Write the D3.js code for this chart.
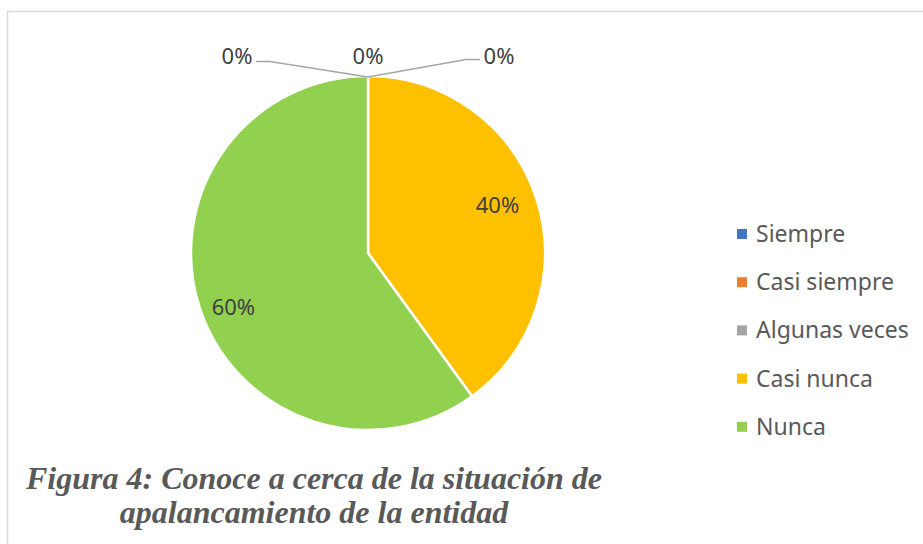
<!DOCTYPE html>
<html>
<head>
<meta charset="utf-8">
<script src="https://cdn.jsdelivr.net/npm/d3@7"></script>
<style>
  body { margin: 0; background: #fff; }
  svg { display: block; }
</style>
</head>
<body>
<div id="chart"></div>
<script>
// chart data
const categories = ['Siempre', 'Casi siempre', 'Algunas veces', 'Casi nunca', 'Nunca'];
const values = [0, 0, 0, 40, 60];
const colors = ['#4472C4', '#ED7D31', '#A5A5A5', '#FFC000', '#92D050'];
const titleLines = ['Figura 4: Conoce a cerca de la situación de', 'apalancamiento de la entidad'];

const width = 923, height = 544;
const cx = 368, cy = 253, radius = 177;

// label placement inside the slices (radius factor, angle nudge in degrees), like Excel's best fit
const labelPlace = { 'Casi nunca': [0.78, -2.3], 'Nunca': [0.82, -4] };

const svg = d3.select('#chart')
  .append('svg')
  .attr('width', width)
  .attr('height', height);

// chart area border (runs off the right and bottom edge)
svg.append('rect')
  .attr('x', 7.5)
  .attr('y', 11.5)
  .attr('width', 1000)
  .attr('height', 1000)
  .attr('fill', 'none')
  .attr('stroke', '#d9d9d9')
  .attr('stroke-width', 1.5);

const data = categories.map((c, i) => ({ name: c, value: values[i], color: colors[i] }));
const total = d3.sum(values);

const pie = d3.pie()
  .sort(null)
  .value(d => d.value);
const arcs = pie(data);

const arc = d3.arc().innerRadius(0).outerRadius(radius);

const g = svg.append('g')
  .attr('transform', `translate(${cx},${cy})`);

g.selectAll('path.slice')
  .data(arcs.filter(d => d.value > 0))
  .join('path')
  .attr('class', 'slice')
  .attr('d', arc)
  .attr('fill', d => d.data.color)
  .attr('stroke', '#fff')
  .attr('stroke-width', 2.5)
  .attr('stroke-linejoin', 'miter');

const fmt = v => Math.round(v / total * 100) + '%';

const labelPos = d => {
  const p = labelPlace[d.data.name] || [0.75, 0];
  const a = (d.startAngle + d.endAngle) / 2 + p[1] * Math.PI / 180;
  return [Math.sin(a) * radius * p[0], -Math.cos(a) * radius * p[0]];
};

// labels of the real slices
g.selectAll('text.pct')
  .data(arcs.filter(d => d.value > 0))
  .join('text')
  .attr('class', 'pct')
  .attr('x', d => labelPos(d)[0])
  .attr('y', d => labelPos(d)[1])
  .attr('dy', '0.35em')
  .attr('text-anchor', 'middle')
  .attr('font-family', 'Noto Sans, sans-serif')
  .attr('font-size', 22)
  .attr('fill', '#404040')
  .text(d => fmt(d.value));

// zero slices: labels pulled above the pie with leader lines
const zeros = arcs.filter(d => d.value === 0);
const spread = 131;
const labelY = -radius - 12;
zeros.forEach((d, i) => {
  const lx = (i - (zeros.length - 1) / 2) * spread;
  const anchor = [0, -radius + 1];
  if (lx !== 0) {
    const side = Math.sign(lx);
    const endX = lx - side * 19;
    const knee = endX - side * 14;
    const ly = labelY - 2.5 + (side > 0 ? -2 : 0);
    g.append('path')
      .attr('d', d3.line()([anchor, [knee, ly], [endX, ly]]))
      .attr('fill', 'none')
      .attr('stroke', '#a6a6a6')
      .attr('stroke-width', 1.3);
  }
  g.append('text')
    .attr('x', lx)
    .attr('y', labelY)
    .attr('text-anchor', 'middle')
    .attr('font-family', 'Noto Sans, sans-serif')
    .attr('font-size', 22)
    .attr('fill', '#404040')
    .text(fmt(d.value));
});

// legend
const legend = svg.append('g')
  .attr('transform', 'translate(737,234)');

const item = legend.selectAll('g.item')
  .data(data)
  .join('g')
  .attr('class', 'item')
  .attr('transform', (d, i) => `translate(0,${i * 48.2})`);

item.append('rect')
  .attr('x', 0)
  .attr('y', -5)
  .attr('width', 10)
  .attr('height', 10)
  .attr('fill', d => d.color);

item.append('text')
  .attr('x', 19)
  .attr('y', 0)
  .attr('dy', '0.35em')
  .attr('font-family', 'Noto Sans, sans-serif')
  .attr('font-size', 23)
  .attr('fill', '#595959')
  .text(d => d.name);

// figure caption, one text block with two lines
svg.append('text')
  .attr('class', 'caption')
  .attr('text-anchor', 'middle')
  .attr('font-family', 'Liberation Serif, serif')
  .attr('font-style', 'italic')
  .attr('font-weight', 'bold')
  .attr('font-size', 32)
  .attr('fill', '#595959')
  .selectAll('tspan')
  .data(titleLines)
  .join('tspan')
  .attr('x', 314)
  .attr('y', (d, i) => 489 + i * 34)
  .text(d => d);
</script>
</body>
</html>
